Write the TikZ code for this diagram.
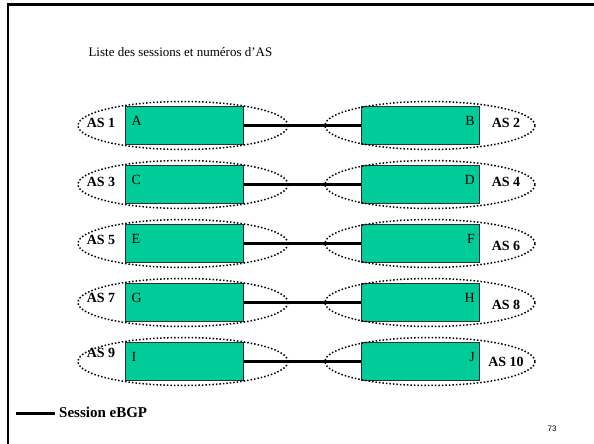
\documentclass[tikz,border=0pt]{standalone}
\usepackage{fontspec}
\usetikzlibrary{shapes.geometric}
\setmainfont{Liberation Serif}
\newfontfamily\sansf{Liberation Sans}
\definecolor{boxgreen}{HTML}{00CC99}
\definecolor{boxedge}{HTML}{303030}
\begin{document}
\begin{tikzpicture}[x=1pt,y=-1pt,
  router/.style={draw=boxedge,line width=1pt,fill=boxgreen,minimum width=118pt,minimum height=38pt,inner sep=0pt},
  asell/.style={draw=black,dotted,line width=1.5pt,ellipse,minimum width=210pt,minimum height=48pt,inner sep=0pt},
  session/.style={draw=black,line width=3pt},
  aslab/.style={font=\bfseries\fontsize{14}{16}\selectfont,inner sep=1pt},
  rlab/.style={font=\fontsize{14}{16}\selectfont,inner sep=2pt}]
\useasboundingbox (0,0) rectangle (594,444);
\fill[white] (0,0) rectangle (594,444);
\draw[line width=2.2pt] (8,444) coordinate (fl) -- (8,4.5) coordinate (ft) -- (594,4.5) coordinate (fr);
\node[anchor=west,font=\fontsize{13}{15}\selectfont] (title) at (85,52) {Liste des sessions et numéros d'AS};
\foreach \i/\y/\l/\r/\la/\ra/\lay/\ray in {1/125/A/B/AS 1/AS 2/0/0, 2/184/C/D/AS 3/AS 4/0/0, 3/243/E/F/AS 5/AS 6/-1/5, 4/302/G/H/AS 7/AS 8/-2/5, 5/361/I/J/AS 9/AS 10/-6/3}{
  \node[router] (L\i) at (184,\y) {};
  \node[router] (R\i) at (420.5,\y) {};
  \node[asell] (EL\i) at (183,\y+0.5) {};
  \node[asell] (ER\i) at (430,\y+0.5) {};
  \draw[session] (L\i.east) -- (R\i.west);
  \node[rlab,anchor=north west] (tl\i) at ([xshift=5pt,yshift=-9pt]L\i.north west) {\l};
  \node[rlab,anchor=north east] (tr\i) at ([xshift=-3pt,yshift=-9pt]R\i.north east) {\r};
  \node[aslab] (al\i) at (101,\y-2+\lay) {\la};
  \node[aslab] (ar\i) at (506,\y-2+\ray) {\ra};
}
\coordinate (lg1) at (16,413);
\coordinate (lg2) at (55,413);
\draw[session] (lg1) -- (lg2);
\node[aslab,anchor=west,font=\bfseries\fontsize{15}{17}\selectfont] (legend) at (58,412) {Session eBGP};
\node[font=\sansf\fontsize{8}{9}\selectfont] (page) at (552,429) {73};
\end{tikzpicture}
\end{document}
